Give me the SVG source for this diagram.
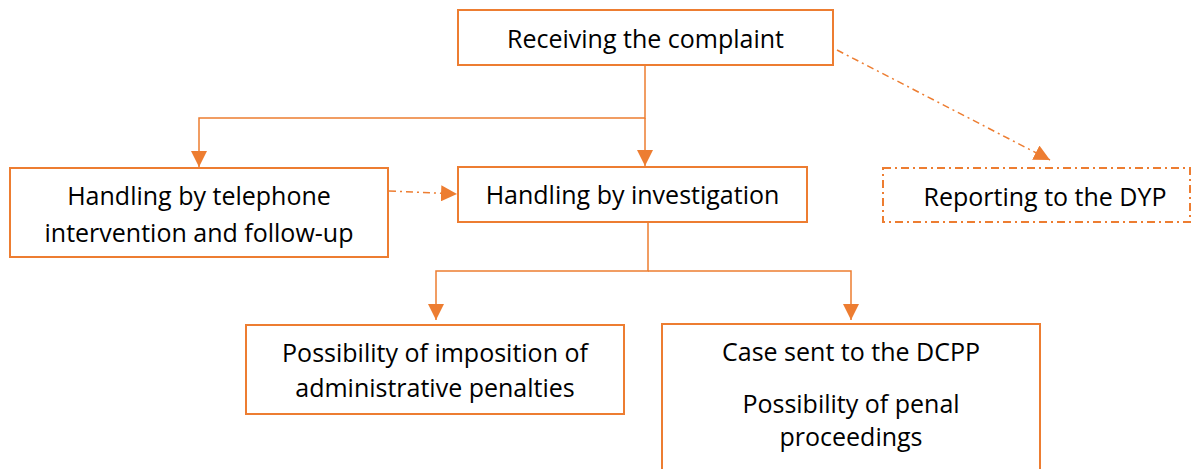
<svg xmlns="http://www.w3.org/2000/svg" width="1195" height="469" viewBox="0 0 1195 469">
<style>
.box{fill:#fff;stroke:#ED7D31;stroke-width:2}
.dbox{fill:#fff;stroke:#ED7D31;stroke-width:2;stroke-dasharray:8 4 2 4}
.t{font-family:"Open Sans","Liberation Sans",Arial,sans-serif;font-size:25px;fill:#000;text-anchor:middle}
.c{fill:none;stroke:#ED7D31;stroke-width:1.5}
.d{fill:none;stroke:#ED7D31;stroke-width:1.5;stroke-dasharray:7 4 2 4}
</style>
<defs>
<marker id="ah" markerUnits="userSpaceOnUse" markerWidth="16" markerHeight="16" viewBox="0 0 16 16" refX="16" refY="8" orient="auto">
<path d="M0,0 L16,8 L0,16 Z" fill="#ED7D31"/>
</marker>
</defs>
<g id="connectors">
<path class="c" d="M645,66 V118 H199 V167" marker-end="url(#ah)"/>
<path class="c" d="M645,118 V166" marker-end="url(#ah)"/>
<path class="d" d="M389,191 L457,194" marker-end="url(#ah)"/>
<path class="d" d="M837,50 L1050,160" marker-end="url(#ah)"/>
<path class="c" d="M648,223 V271 H436 V320" marker-end="url(#ah)"/>
<path class="c" d="M648,271 H851 V320" marker-end="url(#ah)"/>
</g>
<g id="n1"><rect class="box" x="458" y="10" width="375" height="55"/><text class="t" x="645.5" y="48">Receiving the complaint</text></g>
<g id="n2"><rect class="box" x="10" y="168" width="378" height="89"/><text class="t" x="199" y="205">Handling by telephone</text><text class="t" x="199" y="242">intervention and follow-up</text></g>
<g id="n3"><rect class="box" x="458" y="167" width="349" height="55"/><text class="t" x="632.5" y="204">Handling by investigation</text></g>
<g id="n4"><rect class="dbox" x="883" y="168" width="307" height="54"/><text class="t" x="1045" y="206">Reporting to the DYP</text></g>
<g id="n5"><rect class="box" x="246" y="325" width="378" height="89"/><text class="t" x="435" y="362">Possibility of imposition of</text><text class="t" x="435" y="397">administrative penalties</text></g>
<g id="n6"><rect class="box" x="662" y="324" width="378" height="160"/><text class="t" x="851" y="361">Case sent to the DCPP</text><text class="t" x="851" y="413">Possibility of penal</text><text class="t" x="851" y="446">proceedings</text></g>
</svg>
